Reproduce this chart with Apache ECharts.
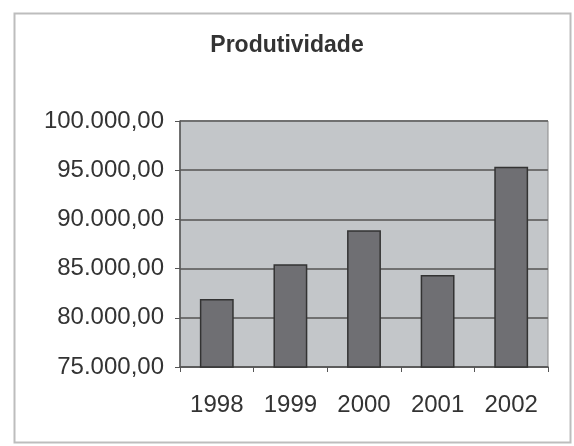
<!DOCTYPE html>
<html><head><meta charset="utf-8">
<script src="https://cdn.jsdelivr.net/npm/echarts@6/dist/echarts.min.js"></script>
<style>html,body{margin:0;padding:0;background:#fff}#c{width:574px;height:446px}</style>
</head><body><div id="c"></div>
<script>
const categories = ['1998', '1999', '2000', '2001', '2002'];
const values = [81900, 85450, 88900, 84350, 95350];
const titleText = 'Produtividade';
const yMin = 75000, yMax = 100000, yStep = 5000;

function fmt(v) {
  const s = Math.round(v).toString().replace(/\B(?=(\d{3})+(?!\d))/g, '.');
  return s + ',00';
}

const chart = echarts.init(document.getElementById('c'), null, {renderer: 'canvas'});
chart.setOption({
  animation: false,
  backgroundColor: '#ffffff',
  textStyle: {fontFamily: 'Liberation Sans, Arial, sans-serif'},
  title: {
    text: titleText, left: 'center', top: 29,
    textStyle: {fontSize: 23, fontWeight: 'bold', color: '#333', fontFamily: 'Liberation Sans, Arial, sans-serif'}
  },
  graphic: [{
    type: 'rect', left: 12, top: 11, z: -1,
    shape: {width: 556, height: 429},
    style: {fill: 'none', stroke: '#bdbdbd', lineWidth: 2}
  }],
  grid: {left: 180, right: 26, top: 121, bottom: 79, show: true, backgroundColor: '#c3c6c9', borderColor: '#888', borderWidth: 1},
  xAxis: {
    type: 'category', data: categories,
    axisLine: {lineStyle: {color: '#555', width: 1.5}},
    axisTick: {show: true, inside: false, length: 5, lineStyle: {color: '#555'}},
    axisLabel: {fontSize: 24, color: '#333', margin: 26}
  },
  yAxis: {
    type: 'value', min: yMin, max: yMax, interval: yStep,
    axisLine: {show: true, lineStyle: {color: '#555', width: 1.5}},
    axisTick: {show: true, length: 5, lineStyle: {color: '#555'}},
    splitLine: {lineStyle: {color: '#707070', width: 2}},
    axisLabel: {fontSize: 24, color: '#333', margin: 16, formatter: fmt}
  },
  series: [{
    type: 'bar', data: values, barWidth: '46%',
    itemStyle: {color: '#6f6f73', borderColor: '#333', borderWidth: 1.5}
  }]
});
</script></body></html>
